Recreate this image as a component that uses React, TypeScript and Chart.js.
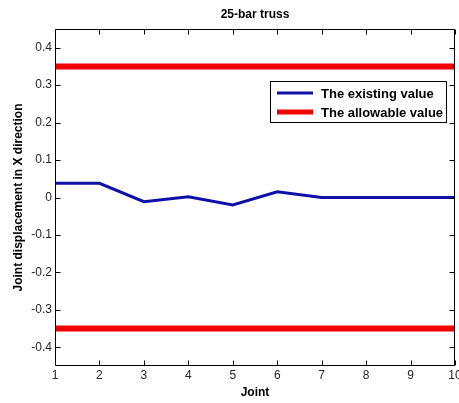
import React, { useEffect, useRef } from "react";
import { Chart, registerables } from "chart.js";

Chart.register(...registerables);

const joints = [1, 2, 3, 4, 5, 6, 7, 8, 9, 10];
const existingValue = [0.038, 0.038, -0.011, 0.002, -0.02, 0.015, 0, 0, 0, 0];
const allowableUpper = [0.35, 0.35, 0.35, 0.35, 0.35, 0.35, 0.35, 0.35, 0.35, 0.35];
const allowableLower = [-0.35, -0.35, -0.35, -0.35, -0.35, -0.35, -0.35, -0.35, -0.35, -0.35];
const xTicks = [1, 2, 3, 4, 5, 6, 7, 8, 9, 10];
const yTicks = [-0.4, -0.3, -0.2, -0.1, 0, 0.1, 0.2, 0.3, 0.4];
const seriesLabels = ["The existing value", "The allowable value"];
const titleText = "25-bar truss";
const xLabel = "Joint";
const yLabel = "Joint displacement in X direction";

const FONT = "'Liberation Sans', Arial, Helvetica, sans-serif";
const BLUE = "#1010a8";
const RED = "#f20000";

const boxPlugin = {
  id: "matlabBox",
  afterDatasetsDraw(chart: any) {
    const { ctx, chartArea, scales } = chart;
    const { left, right, top, bottom } = chartArea;
    const x = scales.x;
    const y = scales.y;
    ctx.save();
    ctx.strokeStyle = "#000";
    ctx.lineWidth = 1;
    const L = Math.round(left) + 0.5;
    const R = Math.round(right) - 0.5;
    const T = Math.round(top) + 0.5;
    const B = Math.round(bottom) - 0.5;
    ctx.beginPath();
    ctx.moveTo(L, T);
    ctx.lineTo(R, T);
    ctx.lineTo(R, B);
    ctx.lineTo(L, B);
    ctx.closePath();
    ctx.stroke();
    const tl = 5;
    ctx.beginPath();
    xTicks.forEach((v) => {
      const px = Math.round(x.getPixelForValue(v)) + 0.5;
      ctx.moveTo(px, B);
      ctx.lineTo(px, B - tl);
      ctx.moveTo(px, T);
      ctx.lineTo(px, T + tl);
    });
    yTicks.forEach((v) => {
      const py = Math.round(y.getPixelForValue(v)) + 0.5;
      ctx.moveTo(L, py);
      ctx.lineTo(L + tl, py);
      ctx.moveTo(R, py);
      ctx.lineTo(R - tl, py);
    });
    ctx.stroke();
    ctx.restore();
  },
};

const legendPlugin = {
  id: "matlabLegend",
  afterDraw(chart: any) {
    const { ctx, chartArea } = chart;
    const w = 177;
    const h = 42;
    const bx = Math.round(chartArea.right) - 8 - w;
    const by = Math.round(chartArea.top) + 52;
    ctx.save();
    ctx.fillStyle = "#fff";
    ctx.fillRect(bx, by, w, h);
    ctx.strokeStyle = "#000";
    ctx.lineWidth = 1;
    ctx.strokeRect(bx + 0.5, by + 0.5, w - 1, h - 1);
    const items = [
      { label: chart.data.datasets[0].label, color: chart.data.datasets[0].borderColor, width: 3 },
      { label: chart.data.datasets[1].label, color: chart.data.datasets[1].borderColor, width: 5 },
    ];
    ctx.font = `bold 13px ${FONT}`;
    ctx.textBaseline = "middle";
    ctx.textAlign = "left";
    items.forEach((it, i) => {
      const cy = by + 12 + i * 19;
      ctx.strokeStyle = it.color;
      ctx.lineWidth = it.width;
      ctx.beginPath();
      ctx.moveTo(bx + 7, cy);
      ctx.lineTo(bx + 43, cy);
      ctx.stroke();
      ctx.fillStyle = "#000";
      ctx.fillText(it.label, bx + 51, cy + 1);
    });
    ctx.restore();
  },
};

export default function App() {
  const ref = useRef<HTMLCanvasElement | null>(null);
  useEffect(() => {
    document.body.style.margin = "0";
    const canvas = ref.current;
    if (!canvas) return;
    const chart = new Chart(canvas, {
      type: "line",
      data: {
        labels: joints,
        datasets: [
          {
            label: seriesLabels[0],
            data: joints.map((j, i) => ({ x: j, y: existingValue[i] })),
            borderColor: BLUE,
            borderWidth: 3,
            pointRadius: 0,
            tension: 0,
            fill: false,
          },
          {
            label: seriesLabels[1],
            data: joints.map((j, i) => ({ x: j, y: allowableUpper[i] })),
            borderColor: RED,
            borderWidth: 6,
            pointRadius: 0,
            fill: false,
          },
          {
            label: seriesLabels[1],
            data: joints.map((j, i) => ({ x: j, y: allowableLower[i] })),
            borderColor: RED,
            borderWidth: 6,
            pointRadius: 0,
            fill: false,
          },
        ],
      },
      options: {
        responsive: false,
        animation: false,
        devicePixelRatio: 1,
        layout: { padding: { left: 0, right: 4, top: 0, bottom: 0 } },
        plugins: {
          legend: { display: false },
          title: { display: false },
          tooltip: { enabled: false },
        },
        scales: {
          x: {
            type: "linear",
            position: "bottom",
            min: 1,
            max: 10,
            grid: { display: false, drawTicks: false },
            border: { display: false },
            ticks: {
              color: "#262626",
              font: { family: FONT, size: 12 },
              padding: 2,
              maxRotation: 0,
              autoSkip: false,
              callback: (v: any) => String(v),
            },
            afterBuildTicks: (s: any) => {
              s.ticks = xTicks.map((v) => ({ value: v }));
            },
            afterFit: (s: any) => {
              s.height = 37;
              s.paddingLeft = 0;
              s.paddingRight = 0;
            },
            title: {
              display: true,
              text: xLabel,
              color: "#000",
              font: { family: FONT, size: 12, weight: "bold" },
              padding: { top: 0, bottom: 3 },
            },
          },
          x2: {
            type: "linear",
            position: "top",
            min: 1,
            max: 10,
            grid: { display: false, drawTicks: false },
            border: { display: false },
            ticks: { display: false },
            afterFit: (s: any) => {
              s.height = 29;
              s.paddingLeft = 0;
              s.paddingRight = 0;
            },
            title: {
              display: true,
              text: titleText,
              color: "#000",
              font: { family: FONT, size: 12, weight: "bold" },
              padding: { top: 7, bottom: 0 },
            },
          },
          y: {
            type: "linear",
            position: "left",
            min: -0.45,
            max: 0.45,
            grid: { display: false, drawTicks: false },
            border: { display: false },
            ticks: {
              color: "#262626",
              font: { family: FONT, size: 12 },
              padding: 3,
              autoSkip: false,
              callback: (v: any) => String(Math.round(Number(v) * 10) / 10),
            },
            afterBuildTicks: (s: any) => {
              s.ticks = yTicks.map((v) => ({ value: v }));
            },
            afterFit: (s: any) => {
              s.width = 55;
              s.paddingTop = 0;
              s.paddingBottom = 0;
            },
            title: {
              display: true,
              text: yLabel,
              color: "#000",
              font: { family: FONT, size: 12, weight: "bold" },
              padding: { top: 11, bottom: 0 },
            },
          },
        },
      },
      plugins: [boxPlugin, legendPlugin],
    } as any);
    return () => chart.destroy();
  }, []);
  return (
    <div style={{ width: 459, height: 403, background: "#fff" }}>
      <canvas ref={ref} width={459} height={403} style={{ display: "block" }} />
    </div>
  );
}
